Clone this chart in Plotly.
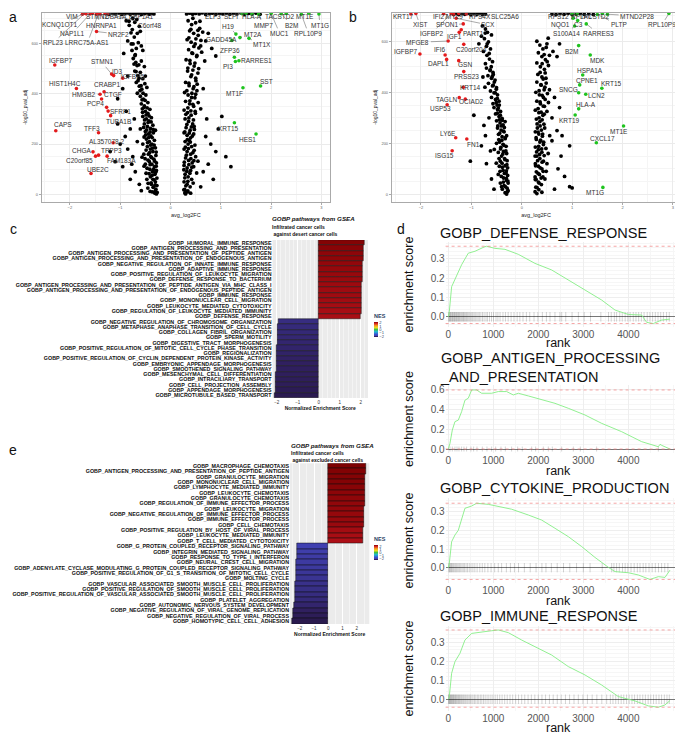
import plotly.graph_objects as go

# the page body keeps its default 8px margin, so the figure is drawn 8px in from the window corner
OFF = 8
W, H = 683 - OFF, 737 - OFF
FONT = "Liberation Sans, Arial, sans-serif"

# ---------------- a: volcano, infiltrated vs desert cancer cells ----------------
# (avg_log2FC, -log10 p_adj) of unlabelled genes
a_dn_pts = [(-1.28,718),(-1.22,716),(-1.15,719),(-1.09,717),(-1.02,720),(-0.97,715),(-0.91,718),(-0.86,721),
            (-0.8,716),(-0.74,719),(-0.69,717),(-0.63,720),(-0.58,715),(-0.52,718),(-0.47,721),(-0.42,716),
            (-0.37,719),(-0.33,717),(-0.88,690),(-0.82,672),(-0.76,655),(-0.71,684),(-0.66,640),(-0.62,668),
            (-0.85,610),(-0.78,598),(-0.72,625),(-0.68,580),(-0.64,603),(-0.58,590),(-0.93,560),(-0.7,555),
            (-0.6,648),(-0.55,572),(-0.75,700),(-0.67,695),(-0.74,540),(-0.69,525),(-0.63,515),(-0.58,530),
            (-0.52,508),(-0.71,490),(-0.65,472),(-0.6,485),(-0.55,460),(-0.5,470),(-0.68,445),(-0.62,430),
            (-0.57,418),(-0.51,440),(-0.47,425),(-0.66,402),(-0.6,390),(-0.54,378),(-0.49,395),(-0.45,365),
            (-0.58,360),(-0.52,352),(-0.85,470),(-0.95,420),(-1.05,380),(-0.56,340),(-0.5,330),(-0.45,322),
            (-0.41,338),(-0.55,310),(-0.48,300),(-0.43,292),(-0.38,305),(-0.52,280),(-0.46,270),(-0.4,262),
            (-0.35,275),(-0.5,250),(-0.44,240),(-0.39,232),(-0.34,245),(-0.3,255),(-0.48,220),(-0.42,210),
            (-0.37,200),(-0.32,215),(-0.46,190),(-0.4,180),(-0.35,170),(-0.3,185),(-0.44,160),(-0.39,150),
            (-0.33,140),(-0.29,155),(-0.42,130),(-0.37,120),(-0.32,110),(-0.28,125),(-0.41,100),(-0.36,90),
            (-0.31,80),(-0.28,95),(-0.4,70),(-0.35,60),(-0.3,50),(-0.27,65),(-0.38,40),(-0.33,30),(-0.29,20),
            (-0.27,35),(-0.36,10),(-0.31,5),(-0.28,2),(-0.5,120),(-0.55,200),(-0.6,260),(-0.53,160),(-0.47,60),
            (-0.45,25),(-0.72,300),(-0.8,260),(-0.9,230),(-1.0,200),(-0.85,180),(-0.75,150),(-1.1,130),
            (-0.95,110),(-0.7,90),(-0.8,60),(-0.62,40),(-1.2,170),(-0.88,330),(-0.66,210),(-1.05,280),
            (-0.77,120),(-0.58,15)]
a_dn_core = [(-0.305,12),(-0.345,28),(-0.385,46),(-0.425,82),(-0.465,104),(-0.505,142),(-0.325,58),(-0.365,76),
             (-0.405,118),(-0.445,136),(-0.485,176),(-0.525,228),(-0.295,88),(-0.335,100),(-0.375,146),
             (-0.415,166),(-0.455,206),(-0.495,236),(-0.535,266),(-0.315,132),(-0.355,184),(-0.395,196),
             (-0.435,226),(-0.475,256),(-0.515,296),(-0.555,326),(-0.285,168),(-0.325,196),(-0.365,226),
             (-0.405,248),(-0.445,286),(-0.485,316),(-0.525,346),(-0.565,376),(-0.345,258),(-0.385,288),
             (-0.425,312),(-0.465,344),(-0.505,374),(-0.545,402),(-0.585,432),(-0.625,462),(-0.665,512),
             (-0.705,552),(-0.745,598),(-0.785,642),(-0.825,688),(-0.605,412),(-0.645,452),(-0.685,488),
             (-0.725,518),(-0.765,572),(-0.305,38),(-0.285,112),(-0.265,8),(-0.405,12),(-0.445,44),(-0.485,84),
             (-0.525,112),(-0.565,148)]
a_up_pts = [(0.32,717),(0.38,720),(0.44,716),(0.5,719),(0.57,717),(0.63,721),(0.7,715),(0.77,718),(0.83,720),
            (0.9,716),(0.97,719),(1.04,717),(1.11,720),(1.18,716),(1.25,719),(1.32,717),(1.4,721),(1.47,716),
            (1.55,719),(1.62,717),(1.7,720),(1.78,716),(0.35,690),(0.42,675),(0.5,682),(0.58,660),(0.38,650),
            (0.46,640),(0.55,632),(0.64,645),(0.33,615),(0.41,605),(0.49,598),(0.6,590),(0.7,610),(0.36,575),
            (0.44,560),(0.52,548),(0.62,565),(0.31,535),(0.39,520),(0.47,510),(0.56,500),(0.34,490),(0.42,475),
            (0.5,462),(0.75,640),(0.82,580),(0.68,530),(0.9,550),(0.3,445),(0.37,432),(0.45,420),(0.53,438),
            (0.28,405),(0.35,395),(0.42,385),(0.5,398),(0.3,370),(0.38,360),(0.46,350),(0.55,365),(0.27,335),
            (0.34,325),(0.41,315),(0.49,330),(0.29,300),(0.36,290),(0.44,280),(0.31,265),(0.39,255),(0.47,270),
            (0.65,420),(0.6,340),(0.27,245),(0.33,235),(0.4,225),(0.46,240),(0.29,210),(0.35,200),(0.42,190),
            (0.27,180),(0.33,170),(0.4,160),(0.47,175),(0.3,145),(0.36,135),(0.43,125),(0.27,115),(0.33,105),
            (0.4,95),(0.46,110),(0.29,80),(0.35,70),(0.42,60),(0.27,50),(0.33,40),(0.39,30),(0.45,45),(0.28,20),
            (0.34,10),(0.4,5),(0.3,2),(0.5,150),(0.52,85),(0.37,215),(0.31,12),(0.7,230),(0.8,200),(0.9,170),
            (1.1,150),(0.75,120),(0.65,90),(0.85,60),(1.2,110),(0.6,30),(0.95,260),(0.72,300),(1.02,310)]
a_up_core = [(0.265,18),(0.305,34),(0.345,52),(0.385,84),(0.425,108),(0.465,134),(0.285,66),(0.325,92),
             (0.365,118),(0.405,142),(0.445,166),(0.485,196),(0.275,128),(0.315,156),(0.355,182),(0.395,208),
             (0.435,232),(0.475,258),(0.295,188),(0.335,218),(0.375,244),(0.415,268),(0.455,296),(0.495,322),
             (0.285,248),(0.325,278),(0.365,304),(0.405,332),(0.445,358),(0.485,384),(0.525,412),(0.305,318),
             (0.345,344),(0.385,372),(0.425,402),(0.465,428),(0.505,452),(0.545,482),(0.325,412),(0.365,442),
             (0.405,468),(0.445,494),(0.485,522),(0.525,552),(0.565,582),(0.605,612),(0.345,502),(0.385,532),
             (0.425,562),(0.465,588),(0.505,618),(0.545,652),(0.585,688),(0.365,622),(0.405,656),(0.445,700),
             (0.265,98),(0.285,6),(0.345,14),(0.545,132)]
a_dn_genes = [("VIM",-1.68,718),("STMN2",-1.55,720),("TUBA1A",-1.4,717),("EEF1A1",-1.3,719),
              ("KCNQ1OT1",-1.75,716),("HNRNPA1",-1.47,716),("C6orf48",-1.25,718),("NAP1L1",-1.6,717),
              ("NR2F2",-1.47,647),("LRRC75A-AS1",-1.43,719),("RPL23",-1.7,720),("IGFBP7",-2.30,514),
              ("STMN1",-1.17,478),("ID3",-1.13,472),("IGFBP5",-0.95,462),("HIST1H4C",-1.87,421),
              ("CRABP1",-1.32,408),("HMGB2",-1.40,398),("CTGF",-1.37,379),("PCP4",-1.27,346),
              ("SFRP1",-1.24,331),("TUBA1B",-1.19,313),("CAPS",-2.28,253),("TFF3",-1.43,245),
              ("AL357078.2",-1.14,205),("CHGA",-1.54,169),("TPPP3",-1.43,156),("C20orf85",-1.49,152),
              ("FAM183A",-1.26,152),("UBE2C",-1.58,83)]
a_up_genes = [("ELF3",1.42,718),("SLPI",1.5,720),("HLA-A",1.62,717),("TACSTD2",2.3,719),("MT1E",2.75,720),
              ("MMP7",1.75,716),("B2M",2.2,718),("MT1G",2.95,717),("MUC1",2.0,719),("RPL10P9",2.6,716),
              ("H19",1.30,637),("MT2A",1.38,623),("GADD45A",1.22,612),("MT1X",1.56,620),("ZFP36",1.27,545),
              ("RARRES1",1.36,531),("PI3",1.29,528),("SST",1.79,431),("MT1F",1.44,424),("KRT15",1.27,285),
              ("HES1",1.70,240)]

# ---------------- b: volcano, infiltrated vs excluded cancer cells ----------------
b_dn_pts = [(-1.35,706),(-1.3,709),(-1.25,705),(-1.19,708),(-1.13,706),(-1.07,709),(-1.01,705),(-0.95,708),
            (-0.89,706),(-0.83,709),(-0.78,705),(-0.72,707),(-0.78,660),(-0.72,648),(-0.68,635),(-0.8,620),
            (-0.74,610),(-0.66,598),(-0.7,580),(-0.62,570),(-0.76,560),(-0.69,545),(-0.64,530),(-0.58,520),
            (-0.72,512),(-0.85,590),(-0.6,625),(-0.7,495),(-0.63,485),(-0.57,478),(-0.67,465),(-0.6,455),
            (-0.53,448),(-0.66,435),(-0.58,425),(-0.5,418),(-0.62,405),(-0.55,398),(-0.48,390),(-0.6,380),
            (-0.52,372),(-0.45,365),(-0.57,355),(-0.49,350),(-0.73,420),(-0.77,460),(-0.55,340),(-0.48,332),
            (-0.42,325),(-0.52,315),(-0.45,305),(-0.39,298),(-0.5,288),(-0.43,280),(-0.37,272),(-0.33,285),
            (-0.48,260),(-0.41,252),(-0.35,245),(-0.46,235),(-0.39,226),(-0.33,218),(-0.3,230),(-0.44,205),
            (-0.37,196),(-0.31,188),(-0.42,178),(-0.36,168),(-0.3,160),(-0.4,150),(-0.34,140),(-0.29,132),
            (-0.39,122),(-0.33,112),(-0.28,104),(-0.37,94),(-0.31,84),(-0.28,74),(-0.36,64),(-0.3,54),
            (-0.27,44),(-0.35,34),(-0.29,24),(-0.27,14),(-0.33,6),(-0.3,1),(-0.45,140),(-0.5,200),(-0.43,90),
            (-0.4,30),(-0.65,300),(-0.75,270),(-0.72,230),(-0.8,190),(-0.62,170),(-0.7,120),(-1.02,130),
            (-0.95,310),(-0.6,60),(-0.55,20)]
b_dn_core = [(-0.285,10),(-0.325,30),(-0.365,48),(-0.405,70),(-0.445,110),(-0.305,62),(-0.345,82),(-0.385,106),
             (-0.425,130),(-0.465,164),(-0.295,116),(-0.335,136),(-0.375,158),(-0.415,184),(-0.455,214),
             (-0.315,170),(-0.355,192),(-0.395,212),(-0.435,240),(-0.475,268),(-0.325,222),(-0.365,248),
             (-0.405,268),(-0.445,292),(-0.485,318),(-0.345,262),(-0.385,290),(-0.425,310),(-0.465,338),
             (-0.505,360),(-0.445,350),(-0.485,376),(-0.525,398),(-0.565,428),(-0.505,412),(-0.545,440),
             (-0.585,462),(-0.625,488),(-0.565,470),(-0.605,500),(-0.645,552),(-0.685,590),(-0.725,632),
             (-0.305,92),(-0.275,52),(-0.385,20),(-0.425,44),(-0.465,78),(-0.505,122),(-0.545,176)]
b_up_pts = [(0.6,707),(0.68,705),(0.76,708),(0.84,706),(0.92,709),(1.0,705),(1.08,707),(1.16,709),(1.24,706),
            (1.33,708),(1.42,705),(0.3,600),(0.36,585),(0.42,570),(0.5,590),(0.33,555),(0.4,540),(0.47,528),
            (0.55,545),(0.62,560),(0.3,515),(0.37,500),(0.45,490),(0.53,505),(0.7,540),(0.75,590),(0.32,470),
            (0.4,460),(0.48,455),(0.3,440),(0.38,430),(0.46,420),(0.55,410),(0.28,400),(0.35,390),(0.43,380),
            (0.51,395),(0.3,365),(0.37,355),(0.45,345),(0.53,360),(0.27,330),(0.34,320),(0.42,310),(0.5,325),
            (0.29,295),(0.36,285),(0.44,275),(0.31,260),(0.39,252),(0.6,300),(0.65,380),(0.75,340),(0.27,245),
            (0.34,236),(0.41,228),(0.29,215),(0.36,205),(0.43,195),(0.27,185),(0.33,175),(0.4,165),(0.3,150),
            (0.36,140),(0.43,130),(0.27,120),(0.33,110),(0.4,100),(0.29,88),(0.35,78),(0.42,68),(0.27,58),
            (0.33,48),(0.39,38),(0.28,28),(0.34,18),(0.4,8),(0.3,3),(0.48,180),(0.5,120),(0.46,60),(0.7,250),
            (0.8,230),(0.95,190),(0.78,150),(0.72,100),(0.85,70),(0.95,30),(0.65,20),(1.0,25),(0.6,210)]
b_up_core = [(0.265,10),(0.305,26),(0.345,44),(0.385,64),(0.425,90),(0.285,58),(0.325,82),(0.365,104),
             (0.405,126),(0.445,152),(0.275,112),(0.315,132),(0.355,156),(0.395,178),(0.435,204),(0.295,166),
             (0.335,188),(0.375,212),(0.415,236),(0.455,260),(0.285,222),(0.325,244),(0.365,268),(0.405,292),
             (0.445,314),(0.305,276),(0.345,300),(0.385,322),(0.425,346),(0.465,372),(0.325,336),(0.365,362),
             (0.405,388),(0.445,410),(0.485,436),(0.345,406),(0.385,428),(0.425,452),(0.465,476),(0.505,520),
             (0.365,478),(0.405,512),(0.445,548),(0.485,576),(0.525,612),(0.265,68),(0.265,150),(0.485,90),
             (0.525,160),(0.555,230)]
b_dn_genes = [("KRT17",-2.2,707),("XIST",-2.1,709),("IFI27",-1.55,708),("MYL9",-1.35,706),("RPS4X",-1.25,709),
              ("SLC25A6",-1.1,707),("SPON1",-1.16,668),("SCX",-1.3,690),("IGFBP2",-1.4,708),("PART1",-1.2,645),
              ("IGF1",-1.24,635),("MFGE8",-1.46,601),("IGFBP7",-2.02,550),("IFI6",-1.52,546),
              ("C20orf204",-1.15,588),("DAPL1",-1.49,529),("GSN",-1.25,524),("PRSS23",-1.15,481),
              ("KRT14",-1.16,420),("TAGLN",-1.24,379),("OCIAD2",-1.12,373),("USP53",-1.48,351),
              ("LY6E",-1.31,222),("FN1",-1.09,217),("ISG15",-1.38,171)]
b_up_genes = [("RPS12",1.0,708),("RPLP1",1.1,707),("TACSTD2",1.6,709),("MTND2P28",1.7,706),("NQO1",1.02,690),
              ("C3",1.11,681),("PLTP",1.5,705),("RPL10P9",2.92,709),("S100A14",1.05,660),("RARRES3",1.28,668),
              ("B2M",1.13,583),("MDK",1.36,546),("HSPA1A",1.21,468),("CPNE1",1.15,429),("KRT15",1.59,416),
              ("SNCG",1.13,398),("LCN2",1.27,392),("HLA-A",1.13,335),("KRT19",1.06,311),("MT1E",2.02,268),
              ("CXCL17",1.48,202),("MT1G",1.61,27)]

# ---------------- c / e: GSEA bar charts ----------------
c_terms = ["GOBP_HUMORAL_IMMUNE_RESPONSE", "GOBP_ANTIGEN_PROCESSING_AND_PRESENTATION",
           "GOBP_ANTIGEN_PROCESSING_AND_PRESENTATION_OF_PEPTIDE_ANTIGEN",
           "GOBP_ANTIGEN_PROCESSING_AND_PRESENTATION_OF_ENDOGENOUS_ANTIGEN",
           "GOBP_NEGATIVE_REGULATION_OF_INNATE_IMMUNE_RESPONSE", "GOBP_ADAPTIVE_IMMUNE_RESPONSE",
           "GOBP_POSITIVE_REGULATION_OF_LEUKOCYTE_MIGRATION", "GOBP_DEFENSE_RESPONSE_TO_BACTERIUM",
           "GOBP_ANTIGEN_PROCESSING_AND_PRESENTATION_OF_PEPTIDE_ANTIGEN_VIA_MHC_CLASS_I",
           "GOBP_ANTIGEN_PROCESSING_AND_PRESENTATION_OF_ENDOGENOUS_PEPTIDE_ANTIGEN",
           "GOBP_IMMUNE_RESPONSE", "GOBP_MONONUCLEAR_CELL_MIGRATION", "GOBP_LEUKOCYTE_MEDIATED_CYTOTOXICITY",
           "GOBP_REGULATION_OF_LEUKOCYTE_MEDIATED_IMMUNITY", "GOBP_DEFENSE_RESPONSE",
           "GOBP_NEGATIVE_REGULATION_OF_CHROMOSOME_ORGANIZATION", "GOBP_METAPHASE_ANAPHASE_TRANSITION_OF_CELL_CYCLE",
           "GOBP_COLLAGEN_FIBRIL_ORGANIZATION", "GOBP_SPERM_MOTILITY", "GOBP_DIGESTIVE_TRACT_MORPHOGENESIS",
           "GOBP_POSITIVE_REGULATION_OF_MITOTIC_CELL_CYCLE_PHASE_TRANSITION", "GOBP_REGIONALIZATION",
           "GOBP_POSITIVE_REGULATION_OF_CYCLIN_DEPENDENT_PROTEIN_KINASE_ACTIVITY",
           "GOBP_EMBRYONIC_APPENDAGE_MORPHOGENESIS", "GOBP_SMOOTHENED_SIGNALING_PATHWAY",
           "GOBP_MESENCHYMAL_CELL_DIFFERENTIATION", "GOBP_INTRACILIARY_TRANSPORT", "GOBP_CELL_PROJECTION_ASSEMBLY",
           "GOBP_APPENDAGE_MORPHOGENESIS", "GOBP_MICROTUBULE_BASED_TRANSPORT"]
c_nes = [2.16, 2.14, 2.12, 2.12, 2.10, 2.09, 2.08, 2.07, 2.06, 2.05, 2.05, 2.04, 2.03, 2.02, 2.01,
         -1.93, -1.95, -1.96, -1.97, -1.98, -1.99, -2.00, -2.01, -2.02, -2.03, -2.04, -2.05, -2.06, -2.08, -2.10]

e_terms = ["GOBP_MACROPHAGE_CHEMOTAXIS", "GOBP_ANTIGEN_PROCESSING_AND_PRESENTATION_OF_PEPTIDE_ANTIGEN",
           "GOBP_GRANULOCYTE_MIGRATION", "GOBP_MONONUCLEAR_CELL_MIGRATION", "GOBP_LYMPHOCYTE_MEDIATED_IMMUNITY",
           "GOBP_LEUKOCYTE_CHEMOTAXIS", "GOBP_GRANULOCYTE_CHEMOTAXIS", "GOBP_REGULATION_OF_IMMUNE_EFFECTOR_PROCESS",
           "GOBP_LEUKOCYTE_MIGRATION", "GOBP_NEGATIVE_REGULATION_OF_IMMUNE_EFFECTOR_PROCESS",
           "GOBP_IMMUNE_EFFECTOR_PROCESS", "GOBP_CELL_CHEMOTAXIS", "GOBP_POSITIVE_REGULATION_BY_HOST_OF_VIRAL_PROCESS",
           "GOBP_LEUKOCYTE_MEDIATED_IMMUNITY", "GOBP_T_CELL_MEDIATED_CYTOTOXICITY",
           "GOBP_G_PROTEIN_COUPLED_RECEPTOR_SIGNALING_PATHWAY", "GOBP_INTEGRIN_MEDIATED_SIGNALING_PATHWAY",
           "GOBP_RESPONSE_TO_TYPE_I_INTERFERON", "GOBP_NEURAL_CREST_CELL_MIGRATION",
           "GOBP_ADENYLATE_CYCLASE_MODULATING_G_PROTEIN_COUPLED_RECEPTOR_SIGNALING_PATHWAY",
           "GOBP_POSITIVE_REGULATION_OF_G1_S_TRANSITION_OF_MITOTIC_CELL_CYCLE", "GOBP_MOLTING_CYCLE",
           "GOBP_VASCULAR_ASSOCIATED_SMOOTH_MUSCLE_CELL_PROLIFERATION",
           "GOBP_POSITIVE_REGULATION_OF_SMOOTH_MUSCLE_CELL_PROLIFERATION",
           "GOBP_POSITIVE_REGULATION_OF_VASCULAR_ASSOCIATED_SMOOTH_MUSCLE_CELL_PROLIFERATION",
           "GOBP_PLATELET_AGGREGATION", "GOBP_AUTONOMIC_NERVOUS_SYSTEM_DEVELOPMENT",
           "GOBP_NEGATIVE_REGULATION_OF_VIRAL_GENOME_REPLICATION", "GOBP_NEGATIVE_REGULATION_OF_VIRAL_PROCESS",
           "GOBP_HOMOTYPIC_CELL_CELL_ADHESION"]
e_nes = [2.63, 2.61, 2.60, 2.60, 2.58, 2.56, 2.55, 2.54, 2.53, 2.52, 2.51, 2.50, 2.45, 2.43, 2.40,
         -2.17, -2.20, -2.22, -2.23, -2.24, -2.26, -2.28, -2.30, -2.32, -2.34, -2.36, -2.40, -2.45, -2.50, -2.56]

# ---------------- d: running enrichment scores ----------------
d_titles = ["GOBP_DEFENSE_RESPONSE", "GOBP_ANTIGEN_PROCESSING<br>_AND_PRESENTATION",
            "GOBP_CYTOKINE_PRODUCTION", "GOBP_IMMUNE_RESPONSE"]
d1_rank = [0, 22, 74, 185, 296, 444, 593, 815, 850, 1037, 1259, 1556, 1926, 2296, 2667, 3037, 3407, 3704,
           4000, 4296, 4407, 4556, 4741, 4926]
d1_es = [0, 0.026, 0.156, 0.217, 0.27, 0.33, 0.34, 0.364, 0.366, 0.355, 0.35, 0.324, 0.277, 0.243, 0.19,
         0.139, 0.087, 0.035, 0.012, 0.009, -0.029, -0.035, -0.017, -0.012]
d1_hits = [8, 21, 33, 47, 60, 78, 92, 105, 121, 138, 150, 166, 183, 197, 214, 229, 246, 262, 281, 299, 318,
           337, 352, 371, 392, 410, 431, 455, 478, 502, 526, 548, 575, 601, 633, 662, 690, 724, 760, 795, 838,
           870, 915, 960, 1005, 1060, 1102, 1150, 1215, 1270, 1330, 1395, 1460, 1530, 1590, 1660, 1735, 1810,
           1905, 1990, 2090, 2180, 2260, 2370, 2480, 2520, 2610, 2750, 2890, 3020, 3160, 3390, 3560, 3620, 3690,
           3740, 3810, 3865, 3930, 3990, 4040, 4110, 4170, 4230, 4290, 4350, 4420, 4480, 4540, 4600, 4660, 4720,
           4780, 4850, 4910]
d2_rank = [0, 37, 89, 148, 222, 296, 370, 444, 519, 630, 741, 963, 1111, 1296, 1444, 1556, 1778, 2074, 2370,
           2667, 3037, 3407, 3852, 4296, 4667, 4704, 4741, 4926]
d2_es = [0, 0.057, 0.19, 0.275, 0.29, 0.375, 0.49, 0.51, 0.593, 0.593, 0.56, 0.56, 0.577, 0.577, 0.543, 0.56,
         0.533, 0.493, 0.459, 0.409, 0.342, 0.258, 0.174, 0.074, 0.023, 0.047, 0.037, 0.0]
d2_hits = [37, 89, 148, 193, 237, 296, 348, 407, 504, 563, 637, 756, 859, 963, 1052, 1170, 1267, 1407, 1541,
           1644, 1852, 1941, 2111, 2222, 2311, 2519, 2778, 2933, 3296, 4667]
d3_rank = [0, 22, 74, 148, 222, 296, 370, 519, 630, 889, 1111, 1407, 1778, 2074, 2370, 2667, 2963, 3259, 3556,
           3704, 4000, 4222, 4481, 4667, 4815, 4926]
d3_es = [0, 0.023, 0.139, 0.175, 0.2, 0.264, 0.318, 0.33, 0.345, 0.339, 0.327, 0.313, 0.282, 0.255, 0.211,
         0.166, 0.113, 0.055, 0.002, -0.021, -0.027, -0.039, -0.063, -0.048, -0.052, -0.013]
d3_hits = [10, 26, 41, 57, 73, 90, 112, 131, 155, 176, 198, 223, 250, 276, 305, 333, 362, 395, 428, 466, 505,
           547, 590, 640, 700, 755, 812, 880, 950, 1030, 1110, 1185, 1290, 1380, 1470, 1560, 1690, 1820, 1950,
           2080, 2170, 2290, 2420, 2560, 2700, 2850, 3000, 3150, 3420, 3630, 3680, 3740, 3800, 3870, 3930, 3990,
           4060, 4130, 4200, 4260, 4330, 4390, 4460, 4530, 4600, 4670, 4740, 4810, 4880]
d4_rank = [0, 22, 74, 148, 259, 370, 519, 741, 963, 1111, 1333, 1630, 2000, 2296, 2667, 3037, 3407, 3778,
           4148, 4444, 4667, 4815, 4926]
d4_es = [0, 0.014, 0.137, 0.198, 0.242, 0.312, 0.347, 0.356, 0.361, 0.365, 0.351, 0.312, 0.268, 0.233, 0.172,
         0.128, 0.075, 0.014, -0.009, -0.035, -0.042, -0.03, -0.007]
d4_hits = [6, 15, 27, 38, 51, 63, 77, 88, 103, 116, 131, 146, 160, 178, 193, 211, 228, 247, 264, 285, 303, 326,
           346, 370, 391, 417, 440, 468, 493, 523, 550, 582, 611, 645, 676, 712, 745, 783, 819, 861, 901, 947,
           991, 1041, 1089, 1143, 1195, 1253, 1309, 1371, 1431, 1497, 1561, 1631, 1699, 1773, 1845, 1923, 1999,
           2081, 2161, 2247, 2331, 2421, 2509, 2603, 2695, 2793, 2889, 2991, 3091, 3197, 3301, 3411, 3519, 3601,
           3659, 3721, 3779, 3841, 3899, 3961, 4019, 4081, 4139, 4201, 4259, 4321, 4379, 4441, 4499, 4561, 4619,
           4681, 4739, 4801, 4859, 4911]

# ---------------- label placement (layout, data coords of the text) ----------------
a_lab = {"VIM": (-1.95, 708), "STMN2": (-1.47, 708), "TUBA1A": (-1.12, 708), "EEF1A1": (-0.58, 708),
         "KCNQ1OT1": (-2.2, 673), "HNRNPA1": (-1.38, 673), "C6orf48": (-0.4, 673), "NAP1L1": (-1.95, 640),
         "NR2F2": (-1.03, 637), "LRRC75A-AS1": (-1.65, 603), "RPL23": (-2.33, 603), "IGFBP7": (-2.17, 534),
         "STMN1": (-1.37, 527), "ID3": (-1.06, 487), "IGFBP5": (-0.74, 470), "HIST1H4C": (-2.10, 441),
         "CRABP1": (-1.27, 435), "HMGB2": (-1.72, 398), "CTGF": (-1.15, 395), "PCP4": (-1.50, 362),
         "SFRP1": (-0.99, 328), "TUBA1B": (-1.04, 291), "CAPS": (-2.13, 276), "TFF3": (-1.57, 262),
         "AL357078.2": (-1.27, 209), "CHGA": (-1.77, 176), "TPPP3": (-1.17, 173), "C20orf85": (-1.80, 136),
         "FAM183A": (-0.97, 136), "UBE2C": (-1.44, 99),
         "ELF3": (0.85, 708), "SLPI": (1.21, 708), "HLA-A": (1.61, 708), "TACSTD2": (2.17, 708),
         "MT1E": (2.67, 708), "MMP7": (1.84, 673), "B2M": (2.40, 673), "MT1G": (2.97, 673), "MUC1": (2.17, 640),
         "RPL10P9": (2.74, 640), "H19": (1.15, 669), "MT2A": (1.63, 637), "GADD45A": (1.02, 616),
         "MT1X": (1.81, 594), "ZFP36": (1.18, 571), "RARRES1": (1.71, 534), "PI3": (1.15, 507),
         "SST": (1.91, 450), "MT1F": (1.28, 402), "KRT15": (1.15, 262), "HES1": (1.54, 219)}
b_lab = {"KRT17": (-2.35, 699), "XIST": (-2.02, 664), "IFI27": (-1.62, 699), "MYL9": (-1.33, 699),
         "RPS4X": (-0.83, 699), "SLC25A6": (-0.33, 699), "SPON1": (-1.49, 664), "SCX": (-0.66, 664),
         "IGFBP2": (-1.79, 631), "PART1": (-0.95, 631), "IGF1": (-1.33, 618), "MFGE8": (-2.06, 596),
         "IGFBP7": (-2.29, 559), "IFI6": (-1.62, 566), "C20orf204": (-0.99, 566), "DAPL1": (-1.66, 514),
         "GSN": (-1.13, 507), "PRSS23": (-1.09, 461), "KRT14": (-1.03, 418), "TAGLN": (-1.49, 372),
         "OCIAD2": (-0.99, 363), "USP53": (-1.62, 337), "LY6E": (-1.46, 239), "FN1": (-0.96, 196),
         "ISG15": (-1.54, 151),
         "RPS12": (0.73, 699), "RPLP1": (1.18, 699), "TACSTD2": (1.45, 699), "MTND2P28": (2.29, 699),
         "NQO1": (0.76, 664), "C3": (1.12, 664), "PLTP": (1.92, 664), "RPL10P9": (2.78, 664),
         "S100A14": (0.89, 631), "RARRES3": (1.52, 631), "B2M": (0.99, 559), "MDK": (1.50, 526),
         "HSPA1A": (1.36, 487), "CPNE1": (1.29, 448), "KRT15": (1.77, 435), "SNCG": (0.93, 409),
         "LCN2": (1.49, 389), "HLA-A": (1.28, 354), "KRT19": (0.93, 291), "MT1E": (1.92, 248),
         "CXCL17": (1.61, 217), "MT1G": (1.46, 8)}


# window pixel -> paper fraction
def fx(px):
    return (px - OFF) / W


def fy(py):
    return 1 - (py - OFF) / H


def dom_x(l, r):
    return [fx(l), fx(r)]


def dom_y(t, b):
    return [fy(b), fy(t)]


def paper_text(text, px, py, size, xanchor="center", **kw):
    annotations.append(dict(x=fx(px), y=fy(py), xref="paper", yref="paper", text=text, showarrow=False,
                            xanchor=xanchor, yanchor="middle",
                            font=dict(size=size, family=FONT, color="#111"), **kw))


fig = go.Figure()
annotations = []
shapes = []

# ---------------- volcano plots ----------------
def volcano(bg_sets, dn_genes, up_genes, lab, n):
    xa, ya = ("x", "y") if n == 1 else ("x%d" % n, "y%d" % n)
    for pts in bg_sets:
        fig.add_trace(go.Scatter(x=[p[0] for p in pts], y=[p[1] for p in pts], mode="markers",
                                 marker=dict(color="black", size=3.8), xaxis=xa, yaxis=ya,
                                 showlegend=False, hoverinfo="skip"))
    for genes, col in ((dn_genes, "#e41a1c"), (up_genes, "#1fc41f")):
        fig.add_trace(go.Scatter(x=[g[1] for g in genes], y=[g[2] for g in genes], mode="markers",
                                 marker=dict(color=col, size=3.6), xaxis=xa, yaxis=ya,
                                 showlegend=False, hoverinfo="skip"))
        for g, fc, p in genes:
            lx, ly = lab[g]
            annotations.append(dict(x=fc, y=p, xref=xa, yref=ya, ax=lx, ay=ly, axref=xa, ayref=ya, text=g,
                                    showarrow=True, arrowhead=0, arrowwidth=0.5, arrowcolor="#555",
                                    standoff=1, font=dict(size=6.5, color="#333", family=FONT)))


volcano((a_dn_pts, a_dn_core, a_up_pts, a_up_core), a_dn_genes, a_up_genes, a_lab, 1)
volcano((b_dn_pts, b_dn_core, b_up_pts, b_up_core), b_dn_genes, b_up_genes, b_lab, 2)

volc_ax = dict(showline=True, mirror=True, linecolor="#aaa", linewidth=0.6, gridcolor="#ebebeb",
               gridwidth=0.5, zeroline=False, ticks="outside", ticklen=2, tickcolor="#aaa", automargin=False,
               tickfont=dict(size=4, color="#666", family=FONT),
               minor=dict(showgrid=True, gridcolor="#f5f5f5", gridwidth=0.4))
layout_axes = {}
layout_axes["xaxis"] = dict(volc_ax, domain=dom_x(41.7, 330), range=[-2.56, 3.17], anchor="y",
                            tickvals=[-2, -1, 0, 1, 2, 3],
                            title=dict(text="avg_log2FC", font=dict(size=5.5, color="#222"), standoff=3))
layout_axes["yaxis"] = dict(volc_ax, domain=dom_y(12.7, 201.7), range=[-29, 722], anchor="x",
                            tickvals=[0, 200, 400, 600],
                            title=dict(text="-log10_pval_adj", font=dict(size=5, color="#222"), standoff=3))
layout_axes["xaxis2"] = dict(volc_ax, domain=dom_x(391.7, 680.5), range=[-2.58, 3.15], anchor="y2",
                             tickvals=[-2, -1, 0, 1, 2, 3],
                             title=dict(text="avg_log2FC", font=dict(size=5.5, color="#222"), standoff=3))
layout_axes["yaxis2"] = dict(volc_ax, domain=dom_y(12.7, 201.7), range=[-29, 712], anchor="x2",
                             tickvals=[0, 200, 400, 600],
                             title=dict(text="-log10_pval_adj", font=dict(size=5, color="#222"), standoff=3))

# ---------------- GSEA bar charts ----------------
nes_scale = [[0.0, "#281848"], [0.03, "#302060"], [0.08, "#4040b0"], [0.18, "#3c50d0"], [0.35, "#20b8d8"],
             [0.5, "#40c040"], [0.62, "#e8e020"], [0.75, "#f5a020"], [0.88, "#e03020"], [0.95, "#b01018"],
             [1.0, "#7a0000"]]


def gsea_bars(terms, nes, n, crange, cb_y):
    fig.add_trace(go.Bar(x=nes, y=terms, orientation="h", xaxis="x%d" % n, yaxis="y%d" % n,
                         showlegend=False, hoverinfo="skip",
                         marker=dict(color=nes, colorscale=nes_scale, cmin=crange[0], cmax=crange[1],
                                     line=dict(color="#111", width=0.5),
                                     colorbar=dict(x=fx(374), xanchor="left", y=fy(cb_y), yanchor="middle",
                                                   len=26, lenmode="pixels", thickness=4, outlinewidth=0,
                                                   tickvals=[-2, -1, 0, 1, 2], ticks="", ypad=0, xpad=0,
                                                   tickfont=dict(size=4, family=FONT),
                                                   title=dict(text="NES", side="top",
                                                              font=dict(size=5.5, family=FONT, weight="bold"))))))
    layout_axes["yaxis%d" % n]["tickvals"] = terms


bar_x = dict(tickvals=[-2, -1, 0, 1, 2], gridcolor="white", gridwidth=0.5, showgrid=True, automargin=False,
             zeroline=False, showline=False, ticks="", tickfont=dict(size=4.5, family=FONT, color="#333"),
             minor=dict(showgrid=True, gridcolor="#f4f4f4", gridwidth=0.4))
bar_y = dict(type="category", autorange="reversed", showgrid=False, ticks="", tickmode="array",
             automargin=False, tickfont=dict(size=5.35, family=FONT, color="#111", weight="bold"))
bar_title = dict(text="Normalized Enrichment Score", standoff=0,
                 font=dict(size=5, family=FONT, color="#111", weight="bold"))
layout_axes["xaxis3"] = dict(bar_x, domain=dom_x(272.5, 368), range=[-2.2, 2.35], anchor="y3", title=bar_title)
layout_axes["yaxis3"] = dict(bar_y, domain=dom_y(240, 398), anchor="x3")
layout_axes["xaxis4"] = dict(bar_x, domain=dom_x(290, 369.3), range=[-2.68, 2.87], anchor="y4", title=bar_title)
layout_axes["yaxis4"] = dict(bar_y, domain=dom_y(463.3, 624), anchor="x4")

gsea_bars(c_terms, c_nes, 3, [-2.15, 2.2], 324)
gsea_bars(e_terms, e_nes, 4, [-2.6, 2.65], 547)

for lx, (line1, line2), ty in ((270, ("Infiltrated cancer cells", "against desert cancer cells"), 219),
                               (289, ("Infiltrated cancer cells", "against excluded cancer cells"), 445)):
    paper_text("<b><i>GOBP pathways from GSEA</i></b>", lx, ty, 6.2, xanchor="left")
    paper_text("<b>%s<br>&nbsp;%s</b>" % (line1, line2), lx, ty + 11.3, 5, xanchor="left", align="left")

# ---------------- running enrichment score panels ----------------
d_rows = [(d1_rank, d1_es, d1_hits, 242, 327, [-0.053, 0.388], [0, 0.1, 0.2, 0.3], 233, 343),
          (d2_rank, d2_es, d2_hits, 385, 453, [-0.04, 0.643], [0, 0.2, 0.4, 0.6], 367, 471),
          (d3_rank, d3_es, d3_hits, 498, 583, [-0.082, 0.373], [0, 0.1, 0.2, 0.3], 488, 601),
          (d4_rank, d4_es, d4_hits, 626, 711, [-0.062, 0.386], [0, 0.1, 0.2, 0.3], 616, 728)]

for i, (rk, es, hits, top, bot, yr, yt, ty, rank_y) in enumerate(d_rows):
    n = 5 + i
    xa, ya = "x%d" % n, "y%d" % n
    rug_x, rug_y = [], []
    for h in hits:
        rug_x += [h, h, None]
        rug_y += [-0.025, 0.025, None]
    fig.add_trace(go.Scatter(x=rug_x, y=rug_y, mode="lines", line=dict(color="rgba(0,0,0,0.22)", width=0.8),
                             xaxis=xa, yaxis=ya, showlegend=False, hoverinfo="skip"))
    fig.add_trace(go.Scatter(x=rk, y=es, mode="lines", line=dict(color="#86ee86", width=0.9),
                             xaxis=xa, yaxis=ya, showlegend=False, hoverinfo="skip"))
    for v in (max(es), min(es)):
        shapes.append(dict(type="line", xref="%s domain" % xa, x0=0, x1=1, yref=ya, y0=v, y1=v,
                           line=dict(color="#f08080", width=0.7, dash="dot")))
    layout_axes["xaxis%d" % n] = dict(domain=dom_x(445.6, 683), range=[-60, 5215], anchor=ya,
                                      tickvals=[0, 1000, 2000, 3000, 4000], showline=False, zeroline=False,
                                      gridcolor="#eeeeee", gridwidth=0.6, ticks="", automargin=False,
                                      minor=dict(showgrid=True, gridcolor="#f6f6f6", gridwidth=0.5),
                                      tickfont=dict(size=10, color="#555", family=FONT))
    layout_axes["yaxis%d" % n] = dict(domain=dom_y(top, bot), range=yr, anchor=xa, tickvals=yt,
                                      tickformat=".1f", showline=False, zeroline=True, zerolinecolor="#777",
                                      zerolinewidth=0.8, gridcolor="#eeeeee", gridwidth=0.6, ticks="",
                                      automargin=False,
                                      minor=dict(showgrid=True, gridcolor="#f6f6f6", gridwidth=0.5),
                                      tickfont=dict(size=10, color="#555", family=FONT),
                                      title=dict(text="enrichment score", standoff=14,
                                                 font=dict(size=12.5, family=FONT, color="#111")))
    paper_text(d_titles[i], 438, ty, 14.5, xanchor="left", align="left")
    paper_text("rank", 558, rank_y, 12.5)

# panel letters
for letter, lx, ly in (("a", 13, 17), ("b", 353, 17), ("c", 13, 229), ("d", 401, 229), ("e", 13, 450)):
    paper_text(letter, lx, ly, 14)

# grey panel background for the bar charts
for n in (3, 4):
    shapes.append(dict(type="rect", xref="x%d domain" % n, yref="y%d domain" % n, x0=0, x1=1, y0=0, y1=1,
                       fillcolor="#ebebeb", line=dict(width=0), layer="below"))

fig.update_layout(width=W, height=H, autosize=False, margin=dict(l=0, r=0, t=0, b=0),
                  paper_bgcolor="white", plot_bgcolor="white", bargap=0,
                  font=dict(family=FONT), annotations=annotations, shapes=shapes, **layout_axes)

fig.write_html("out.html")
